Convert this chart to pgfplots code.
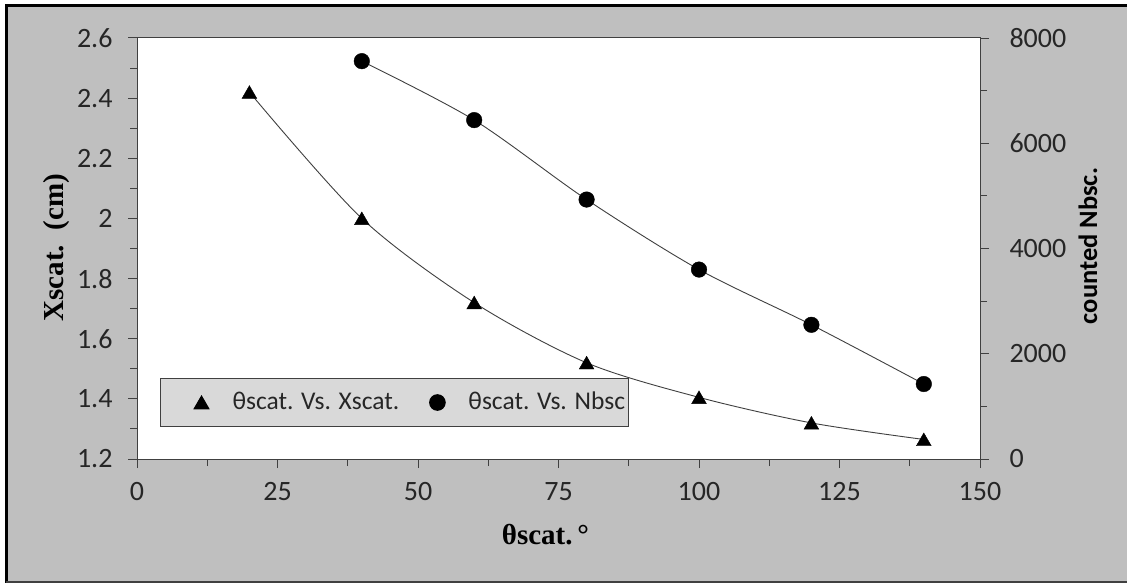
\documentclass[border=0pt]{standalone}
\usepackage{pgfplots}
\pgfplotsset{compat=1.18}
\usepackage{fontspec}
\setmainfont{Carlito}
\newfontfamily\serifb{Liberation Serif}
\definecolor{bggray}{RGB}{191,191,191}
\definecolor{leggray}{RGB}{217,217,217}
\definecolor{axgray}{RGB}{64,64,64}
\definecolor{txt}{RGB}{38,38,38}

\pgfplotstableread{
x y
20 2.42
40 2.00
60 1.72
80 1.52
100 1.405
120 1.32
140 1.265
}\xdata
\pgfplotstableread{
x y
40 7560
60 6440
80 4930
100 3600
120 2550
140 1425
}\ndata

\begin{document}
\begin{tikzpicture}[x=1pt,y=1pt]
\fill[white] (0,0) rectangle (1127,-583);
\fill[bggray] (6,-6) rectangle (1127,-583);
\draw[black, line width=3] (6,-583) -- (6,-6) -- (1127,-6);
\draw[axgray, line width=1.5] (6,-582) -- (1127,-582);

\pgfplotsset{
 every axis/.append style={
  scale only axis, width=843pt, height=421pt,
  at={(137pt,-459pt)}, anchor=south west,
  xmin=0, xmax=150,
  tick align=outside, major tick length=9pt, minor tick length=7pt,
  every tick/.style={axgray, line width=1pt},
  axis line style={axgray, line width=1pt},
  /pgf/number format/assume math mode=true,
  tick label style={font=\fontsize{28}{32}\selectfont, text=txt},
  label style={font=\fontsize{27}{30}\selectfont\bfseries, text=black},
 }
}

\begin{axis}[
 axis background/.style={fill=white},
 ymin=1.2, ymax=2.6,
 xtick={0,25,50,75,100,125,150}, minor x tick num=1,
 ytick={1.2,1.4,1.6,1.8,2,2.2,2.4,2.6}, minor y tick num=1,
 tick pos=left,
 yticklabel style={xshift=-12pt},
 xticklabel style={yshift=-11pt},
 xlabel={\serifb θscat.\,°}, ylabel={\serifb Xscat.~~(cm)},
 xlabel style={at={(axis description cs:0.4845,-0.18)}, anchor=center, font=\fontsize{29}{32}\selectfont\bfseries},
 ylabel style={at={(axis description cs:-0.0949,0.502)}, anchor=center, font=\fontsize{29}{32}\selectfont\bfseries},
 legend style={at={(axis description cs:0.0273,0.1924)}, anchor=north west,
   fill=leggray, draw=axgray, line width=1pt,
   inner xsep=3pt, inner ysep=12pt,
   font=\fontsize{25.5}{30}\selectfont, text=txt,
   nodes={inner xsep=0pt, inner ysep=0pt, text height=19pt, text depth=5pt},
   column sep=0pt},
 legend columns=2,
 legend image code/.code={\path[draw=none, fill=none] (-38pt,-8pt) rectangle (31pt,8pt); \draw[#1] plot coordinates {(0pt,0pt)};},
]
\addplot[axgray, line width=0.9pt, smooth, forget plot] table {\xdata};
\addplot[only marks, mark=triangle*, mark size=8.5pt, mark options={draw=black, fill=black, yshift=-2pt}] table {\xdata};
\addlegendentry{θscat. Vs. Xscat.}
\addlegendimage{only marks, mark=*, mark size=7.8pt, mark options={draw=black, fill=black}}
\addlegendentry{θscat. Vs. Nbsc}
\end{axis}

\begin{axis}[
 axis x line=none, axis y line*=right,
 ymin=0, ymax=8000,
 ytick={0,2000,4000,6000,8000}, minor y tick num=1,
 scaled y ticks=false,
 yticklabel style={/pgf/number format/1000 sep={}, xshift=17pt},
 ylabel={counted Nbsc.},
 ylabel style={at={(axis description cs:1.128,0.506)}, anchor=center, font=\fontsize{26.5}{30}\selectfont\bfseries},
]
\addplot[axgray, line width=0.9pt, smooth] table {\ndata};
\addplot[only marks, mark=*, mark size=7.8pt, mark options={draw=black, fill=black}] table {\ndata};
\end{axis}

\pgfresetboundingbox
\path (0,0) rectangle (1127,-583);
\end{tikzpicture}
\end{document}
